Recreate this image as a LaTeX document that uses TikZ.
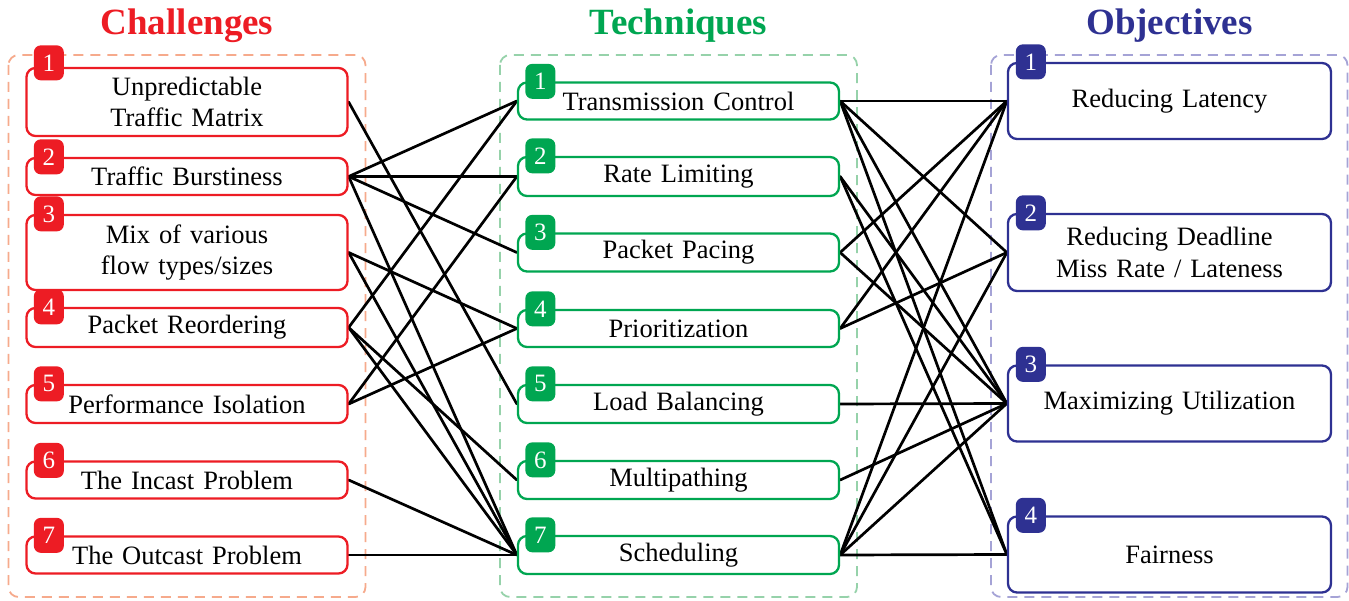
\documentclass[tikz,border=0pt]{standalone}
\usepackage{fontspec}
\setmainfont{Liberation Serif}[WordSpace=1.35]
\usetikzlibrary{backgrounds}
\definecolor{cred}{RGB}{237,28,36}
\definecolor{cgreen}{RGB}{0,166,81}
\definecolor{cblue}{RGB}{46,49,146}
\definecolor{dred}{RGB}{246,170,140}
\definecolor{dgreen}{RGB}{150,210,170}
\definecolor{dblue}{RGB}{165,163,214}
\begin{document}
\begin{tikzpicture}[x=1pt,y=-1pt,
  box/.style={draw=#1, line width=2.3pt, rounded corners=9pt, minimum width=321pt, align=center,
    font=\fontsize{26.5}{31.5}\selectfont, inner sep=0pt, fill=white},
  badge/.style={fill=#1, rounded corners=7pt, minimum width=30pt, minimum height=35pt, inner sep=0pt,
    text=white, font=\fontsize{25}{25}\selectfont},
  group/.style={draw=#1, line width=1.8pt, dash pattern=on 10pt off 7pt, rounded corners=10pt},
  title/.style={font=\fontsize{37}{37}\selectfont\bfseries, text=#1, anchor=base},
  link/.style={line width=2.7pt, line cap=round}
]
\useasboundingbox (0,0) rectangle (1349,601);

% titles
\node[title=cred] (tc) at (187,35) {Challenges};
\node[title=cgreen] (tt) at (678.5,35) {Techniques};
\node[title=cblue] (to) at (1169.5,35) {Objectives};

% boxes
\node[box=cred, minimum height=68pt] (c1) at (187,102) {Unpredictable\\Traffic Matrix};
\node[box=cred, minimum height=37pt] (c2) at (187,176.5) {Traffic Burstiness};
\node[box=cred, minimum height=75pt] (c3) at (187,252.5) {Mix of various\\flow types/sizes};
\node[box=cred, minimum height=39pt] (c4) at (187,327.5) {Packet Reordering};
\node[box=cred, minimum height=38pt] (c5) at (187,404) {Performance Isolation};
\node[box=cred, minimum height=37pt] (c6) at (187,480) {The Incast Problem};
\node[box=cred, minimum height=37pt] (c7) at (187,555) {The Outcast Problem};

\node[box=cgreen, minimum height=37pt] (t1) at (678.5,101) {Transmission Control};
\node[box=cgreen, minimum height=39pt] (t2) at (678.5,176.5) {Rate Limiting};
\node[box=cgreen, minimum height=38pt] (t3) at (678.5,252.5) {Packet Pacing};
\node[box=cgreen, minimum height=37pt] (t4) at (678.5,328.5) {Prioritization};
\node[box=cgreen, minimum height=38pt] (t5) at (678.5,404) {Load Balancing};
\node[box=cgreen, minimum height=38pt] (t6) at (678.5,480) {Multipathing};
\node[box=cgreen, minimum height=38pt] (t7) at (678.5,555) {Scheduling};

\node[box=cblue, minimum width=323pt, minimum height=76pt] (o1) at (1169.5,101) {Reducing Latency};
\node[box=cblue, minimum width=323pt, minimum height=77pt] (o2) at (1169.5,252.5) {Reducing Deadline\\Miss Rate / Lateness};
\node[box=cblue, minimum width=323pt, minimum height=76pt] (o3) at (1169.5,403.5) {Maximizing Utilization};
\node[box=cblue, minimum width=323pt, minimum height=76pt] (o4) at (1169.5,554.5) {Fairness};

\begin{scope}[on background layer]
% groups
\draw[group=dred] (8.5,55) rectangle (365.5,597);
\draw[group=dgreen] (500,55) rectangle (857,597);
\draw[group=dblue] (991,55) rectangle (1347.5,597);
% links
\foreach \a/\b in {c1/t5, c2/t1, c2/t2, c2/t3, c2/t7, c3/t4, c3/t7, c4/t1, c4/t6, c4/t7,
                   c5/t2, c5/t4, c6/t7, c7/t7,
                   t1/o1, t1/o2, t1/o3, t1/o4, t2/o3, t2/o4, t3/o1, t3/o3, t4/o1, t4/o2,
                   t5/o3, t6/o3, t7/o1, t7/o2, t7/o3, t7/o4}
  \draw[link] (\a.east) -- (\b.west);
\end{scope}

% badges
\node[badge=cred] (c1b) at ([xshift=23.5pt,yshift=4pt]c1.north west) {1};
\node[badge=cred] (c2b) at ([xshift=23.5pt]c2.north west) {2};
\node[badge=cred] (c3b) at ([xshift=23.5pt]c3.north west) {3};
\node[badge=cred] (c4b) at ([xshift=23.5pt]c4.north west) {4};
\node[badge=cred] (c5b) at ([xshift=23.5pt]c5.north west) {5};
\node[badge=cred] (c6b) at ([xshift=23.5pt]c6.north west) {6};
\node[badge=cred] (c7b) at ([xshift=23.5pt]c7.north west) {7};
\node[badge=cgreen] (t1b) at ([xshift=23.5pt]t1.north west) {1};
\node[badge=cgreen] (t2b) at ([xshift=23.5pt]t2.north west) {2};
\node[badge=cgreen] (t3b) at ([xshift=23.5pt]t3.north west) {3};
\node[badge=cgreen] (t4b) at ([xshift=23.5pt]t4.north west) {4};
\node[badge=cgreen] (t5b) at ([xshift=23.5pt]t5.north west) {5};
\node[badge=cgreen] (t6b) at ([xshift=23.5pt]t6.north west) {6};
\node[badge=cgreen] (t7b) at ([xshift=23.5pt]t7.north west) {7};
\node[badge=cblue] (o1b) at ([xshift=24pt]o1.north west) {1};
\node[badge=cblue] (o2b) at ([xshift=24pt]o2.north west) {2};
\node[badge=cblue] (o3b) at ([xshift=24pt]o3.north west) {3};
\node[badge=cblue] (o4b) at ([xshift=24pt]o4.north west) {4};
\end{tikzpicture}
\end{document}
